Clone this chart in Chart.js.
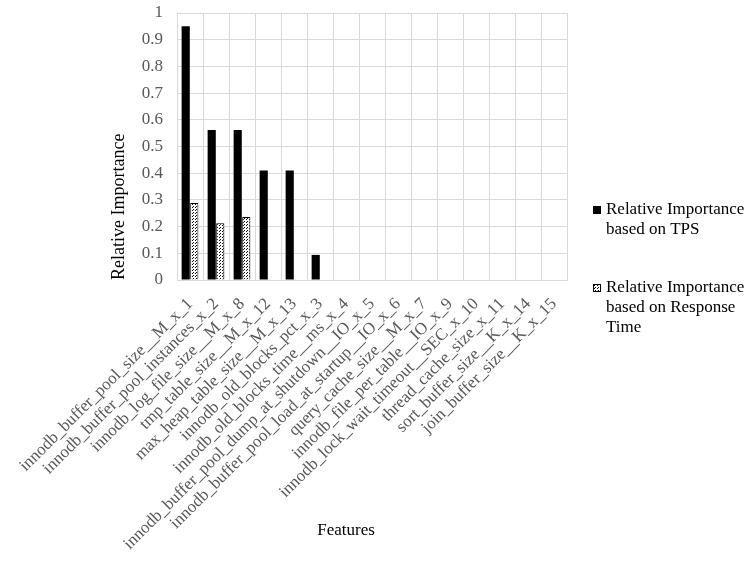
<!DOCTYPE html>
<html>
<head>
<meta charset="utf-8">
<script src="https://cdn.jsdelivr.net/npm/chart.js@4"></script>
<style>
  html, body { margin: 0; padding: 0; background: #fff; }
  #wrap { width: 754px; height: 562px; }
</style>
</head>
<body>
<div id="wrap"><canvas id="chart_1"></canvas></div>
<script>
const features = [
  "innodb_buffer_pool_size__M_x_1",
  "innodb_buffer_pool_instances_x_2",
  "innodb_log_file_size__M_x_8",
  "tmp_table_size__M_x_12",
  "max_heap_table_size__M_x_13",
  "innodb_old_blocks_pct_x_3",
  "innodb_old_blocks_time__ms_x_4",
  "innodb_buffer_pool_dump_at_shutdown__IO_x_5",
  "innodb_buffer_pool_load_at_startup__IO_x_6",
  "query_cache_size__M_x_7",
  "innodb_file_per_table__IO_x_9",
  "innodb_lock_wait_timeout__SEC_x_10",
  "thread_cache_size_x_11",
  "sort_buffer_size__K_x_14",
  "join_buffer_size__K_x_15",
];
const tpsImportance = [0.95, 0.562, 0.562, 0.41, 0.41, 0.094, 0, 0, 0, 0, 0, 0, 0, 0, 0];
const responseImportance = [0.288, 0.213, 0.236, 0, 0, 0, 0, 0, 0, 0, 0, 0, 0, 0, 0];
const seriesNames = [
  ["Relative Importance", "based on TPS"],
  ["Relative Importance", "based on Response", "Time"],
];

const serif = "'Liberation Serif', 'Times New Roman', serif";
const gridColor = "#d9d9d9";
const tickColor = "#595959";

// white with small black dots, like the Excel "dotted" fill
function dotPattern() {
  const c = document.createElement("canvas");
  c.width = 3;
  c.height = 3;
  const g = c.getContext("2d");
  g.fillStyle = "#fff";
  g.fillRect(0, 0, 3, 3);
  g.fillStyle = "#000";
  g.fillRect(0, 0, 1, 1);
  g.fillRect(1, 2, 1, 1);
  return g.createPattern(c, "repeat");
}

// legend on the right with wrapped lines + the x-axis caption
const sideText = {
  id: "sideText",
  afterDraw(chart) {
    const ctx = chart.ctx;
    const sets = chart.data.datasets;
    ctx.save();
    ctx.font = "17px " + serif;
    ctx.fillStyle = "#000";
    ctx.textBaseline = "middle";
    ctx.textAlign = "left";
    const tops = [210, 288];
    sets.forEach((ds, i) => {
      const y = tops[i];
      ctx.fillStyle = ds.backgroundColor;
      ctx.fillRect(593, y - 4, 8, 8);
      ctx.strokeStyle = "#000";
      ctx.lineWidth = 1;
      ctx.strokeRect(593.5, y - 3.5, 7, 7);
      ctx.fillStyle = "#000";
      seriesNames[i].forEach((line, k) => {
        ctx.fillText(line, 606, y + k * 20);
      });
    });
    ctx.textAlign = "center";
    ctx.fillText("Features", 346, 531);
    ctx.restore();
  },
};

const ct_1 = document.getElementById("chart_1");

new Chart(ct_1, {
  type: "bar",
  data: {
    labels: features,
    datasets: [
      {
        label: "Relative Importance based on TPS",
        data: tpsImportance,
        backgroundColor: "#000",
        borderColor: "#000",
        borderWidth: 0,
        categoryPercentage: 0.66,
        barPercentage: 0.95,
      },
      {
        label: "Relative Importance based on Response Time",
        data: responseImportance,
        backgroundColor: dotPattern(),
        borderColor: "#000",
        borderWidth: 1,
        categoryPercentage: 0.66,
        barPercentage: 0.95,
      },
    ],
  },
  options: {
    responsive: true,
    maintainAspectRatio: false,
    animation: false,
    layout: {
      padding: { left: 104, right: 187, top: 13, bottom: 0 },
    },
    plugins: {
      legend: { display: false },
      tooltip: { enabled: false },
    },
    scales: {
      x: {
        grid: { color: gridColor, offset: true, drawTicks: false },
        border: { color: gridColor },
        ticks: {
          autoSkip: false,
          minRotation: 45,
          maxRotation: 45,
          padding: 14,
          color: tickColor,
          font: { family: serif, size: 17 },
        },
        afterFit(scale) {
          scale.height = 282;
        },
      },
      y: {
        min: 0,
        max: 1,
        grid: { color: gridColor, drawTicks: false },
        border: { color: gridColor },
        ticks: {
          stepSize: 0.1,
          padding: 14,
          color: tickColor,
          font: { family: serif, size: 17 },
          callback: (v) => String(Number(v.toFixed(1))),
        },
        title: {
          display: true,
          text: "Relative Importance",
          align: "start",
          color: "#000",
          font: { family: serif, size: 18 },
        },
        afterFit(scale) {
          scale.width = 73;
          // keep the plot top pinned regardless of label overflow
          scale.paddingTop = 0;
          scale.paddingBottom = 0;
        },
      },
    },
  },
  plugins: [sideText],
});
</script>
</body>
</html>
